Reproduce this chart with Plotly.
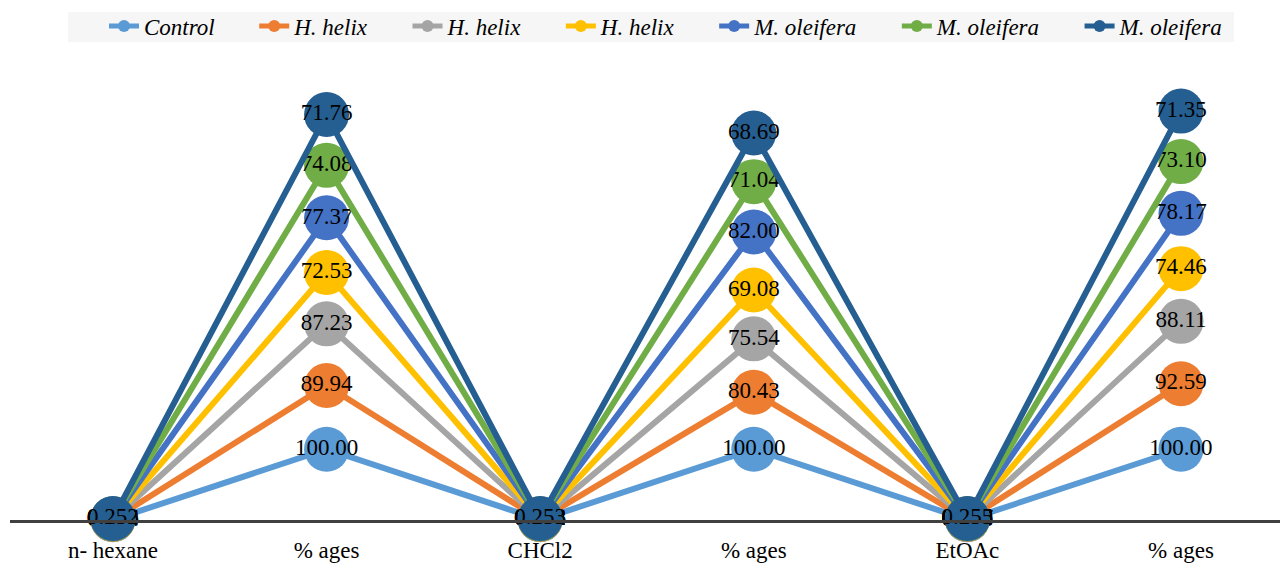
import plotly.graph_objects as go

categories = ["n- hexane", "% ages", "CHCl2", "% ages", "EtOAc", "% ages"]
series_names = ["Control", "H. helix", "H. helix", "H. helix", "M. oleifera", "M. oleifera", "M. oleifera"]
colors = ["#5B9BD5", "#ED7D31", "#A5A5A5", "#FFC000", "#4472C4", "#70AD47", "#255E91"]

control = [0.351, 100.00, 0.368, 100.00, 0.358, 100.00]
h_helix_1 = [0.316, 89.94, 0.296, 80.43, 0.331, 92.59]
h_helix_2 = [0.306, 87.23, 0.278, 75.54, 0.315, 88.11]
h_helix_3 = [0.255, 72.53, 0.254, 69.08, 0.267, 74.46]
m_oleifera_1 = [0.272, 77.37, 0.302, 82.00, 0.280, 78.17]
m_oleifera_2 = [0.260, 74.08, 0.261, 71.04, 0.262, 73.10]
m_oleifera_3 = [0.252, 71.76, 0.253, 68.69, 0.255, 71.35]

all_series = [control, h_helix_1, h_helix_2, h_helix_3, m_oleifera_1, m_oleifera_2, m_oleifera_3]
decimals = [3, 2, 3, 2, 3, 2]

FONT = "Liberation Serif"
xs = list(range(len(categories)))
PAD = "\u00a0" * 6

fig = go.Figure()
for name, col, vals in zip(series_names, colors, all_series):
    texts = [f"{v:.{d}f}" for v, d in zip(vals, decimals)]
    fig.add_trace(go.Scatter(
        x=xs, y=vals, name=f"<i>{name}</i>{PAD}",
        stackgroup="one", fill="none",
        mode="lines+markers+text",
        line=dict(color=col, width=6),
        marker=dict(color=col, size=45),
        text=texts, textposition="middle center",
        textfont=dict(family=FONT, size=23, color="black"),
        cliponaxis=False,
    ))

W, H = 1280, 563
L, R, T, B = 10, 0, 60, 43
pw, ph = W - L - R, H - T - B

# light legend background box (page pixels 68..1234 x 12..42)
fig.add_shape(type="rect", xref="paper", yref="paper",
              x0=(68 - L) / pw, x1=(1234 - L) / pw,
              y0=(H - B - 42) / ph, y1=(H - B - 12) / ph,
              fillcolor="#f6f6f6", line=dict(width=0), layer="below")

fig.update_layout(
    width=W, height=H,
    margin=dict(l=L, r=R, t=T, b=B),
    plot_bgcolor="white", paper_bgcolor="white",
    font=dict(family=FONT, size=23, color="black"),
    showlegend=True,
    legend=dict(
        orientation="h", xref="container", x=104 / W, xanchor="left",
        yref="container", y=1 - 26 / H, yanchor="middle",
        bgcolor="rgba(0,0,0,0)", font=dict(family=FONT, size=23, color="black"),
        itemsizing="constant", traceorder="normal",
    ),
    xaxis=dict(
        range=[-0.482, 5.4635], tickvals=xs, ticktext=categories,
        showgrid=False, zeroline=False, showline=True,
        linecolor="#404040", linewidth=3, ticks="",
        ticklabelstandoff=7,
        tickfont=dict(family=FONT, size=23, color="black"),
    ),
    yaxis=dict(range=[0, 650], visible=False, showgrid=False, zeroline=False),
)

fig.write_html("out.html", config={"displayModeBar": False},
               post_script="document.body.style.margin='0';")
